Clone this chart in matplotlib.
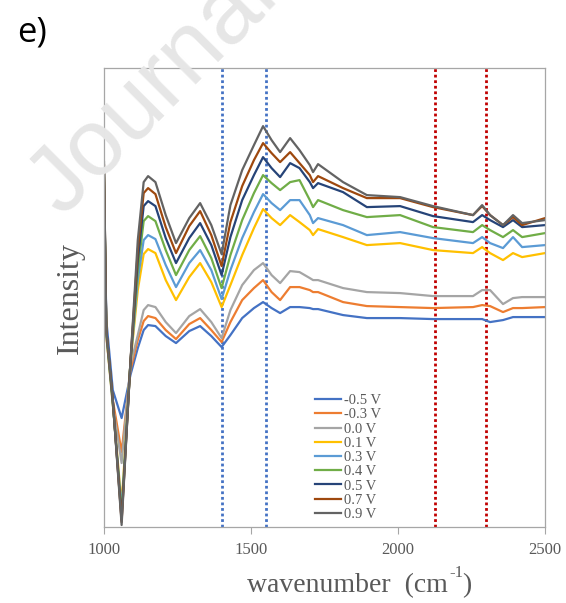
import numpy as np
import matplotlib.pyplot as plt

wavenumber = [1000, 1008, 1030, 1060, 1090, 1115, 1135, 1150, 1175, 1210, 1245, 1290,
              1327, 1365, 1400, 1430, 1470, 1510, 1541, 1570, 1599, 1633, 1665, 1700,
              1711, 1728, 1813, 1894, 2007, 2119, 2255, 2286, 2313, 2357, 2391, 2422, 2500]

i_m05 = [341, 207, 137, 109, 152, 179, 197, 202, 201, 191, 184, 196, 201, 191, 180, 192, 209,
         219, 225, 219, 214, 220, 220, 219, 218, 218, 212, 209, 209, 208, 208, 208, 205, 207,
         210, 210, 210]
i_m03 = [344, 191, 127, 75, 157, 187, 206, 211, 209, 197, 188, 203, 209, 197, 185, 205, 227,
         239, 247, 235, 227, 240, 240, 237, 235, 235, 225, 221, 220, 219, 220, 222, 221, 215,
         219, 219, 220]
i_00 = [347, 192, 122, 64, 162, 192, 217, 222, 220, 205, 194, 211, 218, 205, 189, 217, 242,
        257, 264, 252, 244, 256, 255, 249, 247, 247, 239, 235, 234, 231, 231, 237, 237, 223,
        229, 230, 230]
i_01 = [349, 193, 123, 22, 164, 237, 273, 278, 274, 247, 227, 250, 264, 245, 220, 242, 272,
        299, 318, 309, 302, 312, 305, 297, 292, 298, 290, 282, 284, 277, 274, 280, 274, 267,
        274, 270, 274]
i_03 = [352, 194, 124, 17, 164, 247, 287, 292, 288, 262, 240, 264, 277, 257, 228, 257, 289,
        315, 333, 324, 317, 327, 327, 312, 304, 309, 302, 292, 295, 289, 284, 290, 284, 279,
        290, 280, 282]
i_04 = [355, 195, 125, 12, 165, 257, 306, 311, 306, 277, 252, 277, 291, 269, 239, 272, 307,
        334, 352, 344, 337, 345, 347, 327, 320, 327, 317, 310, 312, 300, 295, 302, 297, 290,
        297, 290, 294]
i_05 = [359, 197, 127, 7, 165, 267, 321, 326, 321, 289, 264, 289, 304, 282, 252, 290, 327,
        352, 370, 359, 350, 364, 359, 345, 339, 344, 335, 320, 321, 311, 305, 312, 307, 300,
        307, 300, 302]
i_07 = [362, 197, 127, 5, 165, 277, 334, 339, 333, 300, 274, 301, 316, 292, 261, 305, 341,
        367, 384, 374, 365, 375, 364, 352, 345, 351, 339, 329, 329, 320, 312, 321, 312, 302,
        310, 302, 309]
i_09 = [365, 197, 127, 2, 165, 287, 345, 351, 345, 312, 284, 309, 324, 302, 273, 322, 357,
        382, 401, 387, 375, 389, 377, 362, 355, 363, 345, 332, 330, 321, 312, 322, 312, 302,
        312, 304, 307]

labels = ["-0.5 V", "-0.3 V", "0.0 V", "0.1 V", "0.3 V", "0.4 V", "0.5 V", "0.7 V", "0.9 V"]
series = [i_m05, i_m03, i_00, i_01, i_03, i_04, i_05, i_07, i_09]
colors = ["#4472C4", "#ED7D31", "#A5A5A5", "#FFC000", "#5B9BD5", "#70AD47",
          "#264478", "#9E480E", "#636363"]

blue_marks = [1400, 1550]
red_marks = [2125, 2300]

fig = plt.figure(figsize=(5.66, 6.03), dpi=100)

# faint watermark behind everything (runs off the top edge, as in the original)
fig.text(0.1095, 0.640, "Journal", rotation=45, rotation_mode="anchor",
         ha="left", va="baseline", fontsize=68, color="#e6e6e6",
         family="Liberation Sans", zorder=0)
fig.text(0.03, 0.946, "e)", fontsize=25, family="Open Sans", color="black",
         ha="left", va="center")

ax = fig.add_axes([0.1837, 0.126, 0.7793, 0.761])
ax.set_facecolor("none")

for x in blue_marks:
    ax.axvline(x, color="#4472C4", lw=2.0, ls=(0, (1, 1)), zorder=1)
for x in red_marks:
    ax.axvline(x, color="#C00000", lw=2.0, ls=(0, (1, 1)), zorder=1)

for y, lab, c in zip(series, labels, colors):
    ax.plot(wavenumber, y, color=c, lw=1.6, label=lab, zorder=2)

ax.set_xlim(1000, 2500)
ax.set_ylim(0, 459)
ax.set_xticks([1000, 1500, 2000, 2500])
ax.set_yticks([])
for s in ax.spines.values():
    s.set_color("#a6a6a6")
    s.set_linewidth(0.9)
ax.tick_params(axis="x", direction="out", length=5, color="#a6a6a6",
               labelsize=12, labelcolor="#595959", pad=6)
for t in ax.get_xticklabels():
    t.set_family("Liberation Serif")

# x label: plain hyphen in the superscript, as in the original
lab_kw = dict(color="#595959", family="Liberation Serif", va="baseline")
fig.text(448 / 566, 1 - 592 / 603, "wavenumber  (cm", fontsize=20, ha="right", **lab_kw)
fig.text(449 / 566, 1 - 577 / 603, "-1", fontsize=12, ha="left", **lab_kw)
fig.text(462 / 566, 1 - 592 / 603, ")", fontsize=20, ha="left", **lab_kw)

ax.set_ylabel("Intensity", fontsize=23, color="#595959", family="Liberation Serif",
              labelpad=14)

leg = ax.legend(loc="upper left", bbox_to_anchor=(0.479, 0.29), frameon=False,
                fontsize=10.5, handlelength=1.75, handletextpad=0.2, labelspacing=0.07,
                borderpad=0, borderaxespad=0)
for t in leg.get_texts():
    t.set_color("#595959")
    t.set_family("Liberation Serif")

fig.savefig("out.png", dpi=100)
